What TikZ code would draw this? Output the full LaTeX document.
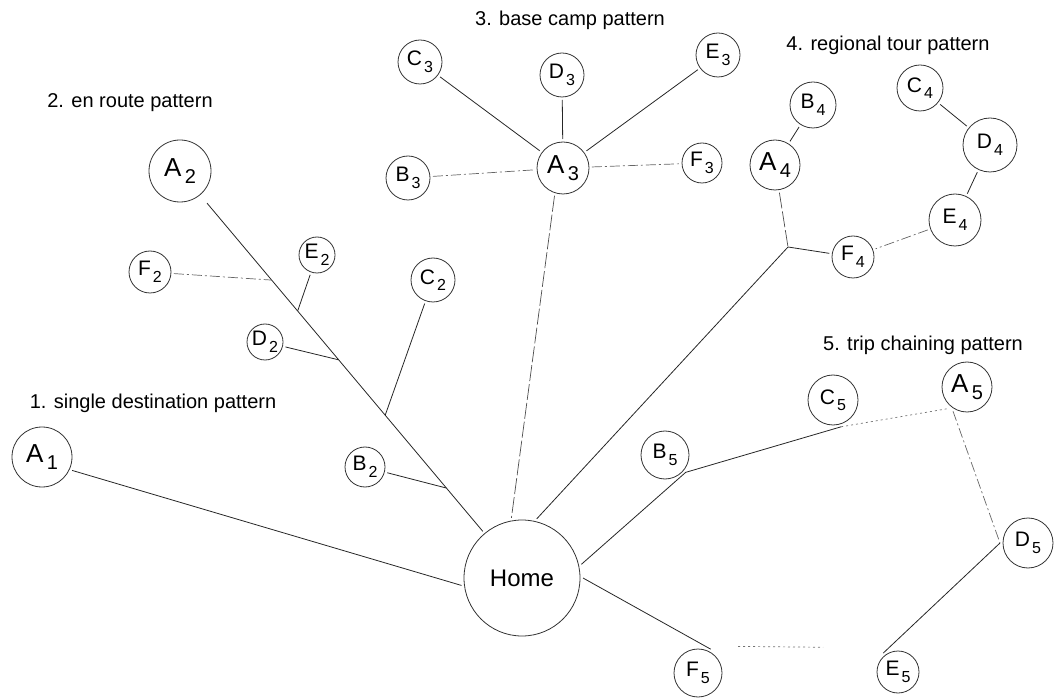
\documentclass[tikz,border=0pt]{standalone}
\usepackage{fontspec}
\setmainfont{Liberation Sans}
\usetikzlibrary{calc}
\newcommand\biglab[2]{{\fontsize{26}{26}\selectfont #1\kern3.5pt\raisebox{-7pt}{\fontsize{20}{20}\selectfont #2}}}
\newcommand\smlab[2]{{\fontsize{21}{21}\selectfont #1\kern2pt\raisebox{-6.5pt}{\fontsize{16}{16}\selectfont #2}}}
\begin{document}
\begin{tikzpicture}[x=1pt,y=-1pt,
  ring/.style={circle,draw=black!80,line width=0.8pt,inner sep=0pt,outer sep=3pt,minimum size=#1},
  link/.style={draw=black!85,line width=0.8pt},
  faint/.style={draw=black!60,line width=0.7pt,dash pattern=on 10pt off 3pt on 2pt off 3pt},
  longdash/.style={draw=black!70,line width=0.7pt,dash pattern=on 16pt off 3pt},
  dotline/.style={draw=black!55,line width=0.7pt,dash pattern=on 2pt off 3pt},
  ttl/.style={font=\fontsize{20}{24}\selectfont}]
\useasboundingbox (0,0) rectangle (1055,700);

% titles
\node[ttl] (t1) at (153,403) {1. single destination pattern};
\node[ttl] (t2) at (130,103) {2. en route pattern};
\node[ttl] (t3) at (570,20) {3. base camp pattern};
\node[ttl] (t4) at (888,45) {4. regional tour pattern};
\node[ttl] (t5) at (923,345) {5. trip chaining pattern};

% home
\node[ring=116] (Home) at (522,578) {\fontsize{24}{24}\selectfont Home};

% 1. single destination
\node[ring=60] (A1) at (42,457) {\biglab{A}{1}};

% 2. en route
\node[ring=62] (A2) at (180,171) {\biglab{A}{2}};
\node[ring=40] (B2) at (365,467) {\smlab{B}{2}};
\node[ring=44] (C2) at (433,280) {\smlab{C}{2}};
\node[ring=36] (D2) at (265,342) {\smlab{D}{2}};
\node[ring=36] (E2) at (317,255) {\smlab{E}{2}};
\node[ring=42] (F2) at (150,272) {\smlab{F}{2}};

% 3. base camp
\node[ring=52] (A3) at (563,168) {\biglab{A}{3}};
\node[ring=44] (B3) at (408,178) {\smlab{B}{3}};
\node[ring=44] (C3) at (420,62) {\smlab{C}{3}};
\node[ring=44] (D3) at (562,75) {\smlab{D}{3}};
\node[ring=44] (E3) at (718,55) {\smlab{E}{3}};
\node[ring=40] (F3) at (702,163) {\smlab{F}{3}};

% 4. regional tour
\node[ring=50] (A4) at (775,165) {\biglab{A}{4}};
\node[ring=46] (B4) at (813,105) {\smlab{B}{4}};
\node[ring=46] (C4) at (920,88) {\smlab{C}{4}};
\node[ring=54] (D4) at (990,145) {\smlab{D}{4}};
\node[ring=52] (E4) at (955,220) {\smlab{E}{4}};
\node[ring=42] (F4) at (853,257) {\smlab{F}{4}};

% 5. trip chaining
\node[ring=50] (A5) at (967,387) {\biglab{A}{5}};
\node[ring=48] (B5) at (665,455) {\smlab{B}{5}};
\node[ring=50] (C5) at (833,400) {\smlab{C}{5}};
\node[ring=50] (D5) at (1028,543) {\smlab{D}{5}};
\node[ring=42] (E5) at (898,672) {\smlab{E}{5}};
\node[ring=48] (F5) at (698,673) {\smlab{F}{5}};

% junctions
\coordinate (jf2) at ($(A2)!0.268!(Home)$);
\coordinate (je2) at ($(A2)!0.344!(Home)$);
\coordinate (jd2) at ($(A2)!0.464!(Home)$);
\coordinate (jc2) at ($(A2)!0.600!(Home)$);
\coordinate (jb2) at ($(A2)!0.779!(Home)$);
\coordinate (j4) at (788,247);

% 1
\draw[link] (A1.-24) -- (Home.187);

% 2
\draw[link,shorten <=8pt] (A2) -- (Home);
\draw[faint] (F2) -- (jf2);
\draw[link] (E2) -- (je2);
\draw[link] (D2) -- (jd2);
\draw[link] (C2) -- (jc2);
\draw[link] (B2) -- (jb2);

% 3
\draw[link] (C3) -- (A3);
\draw[link] (D3) -- (A3);
\draw[link] (E3) -- (A3);
\draw[faint] (B3) -- (A3);
\draw[faint] (A3) -- (F3);
\draw[longdash] (A3.-107) -- (Home.100);

% 4
\draw[link] (B4) -- (A4);
\draw[link] (C4) -- (D4);
\draw[link] (D4) -- (E4);
\draw[faint] (E4) -- (F4);
\draw[link] (F4) -- (j4);
\draw[longdash] (A4) -- (j4);
\draw[link] (j4) -- (Home.76);

% 5
\draw[link] (Home.13) -- (B5.-40) -- (C5.-73);
\draw[dotline] (C5.-73) -- (A5.-130);
\draw[faint] (A5.-120) -- (D5.180);
\draw[link] (D5.180) -- (E5.128);
\draw[dotline,shorten <=40pt,shorten >=75pt] (F5.north) -- (E5.north);
\draw[link] (F5.62) -- (Home.0);
\end{tikzpicture}
\end{document}
